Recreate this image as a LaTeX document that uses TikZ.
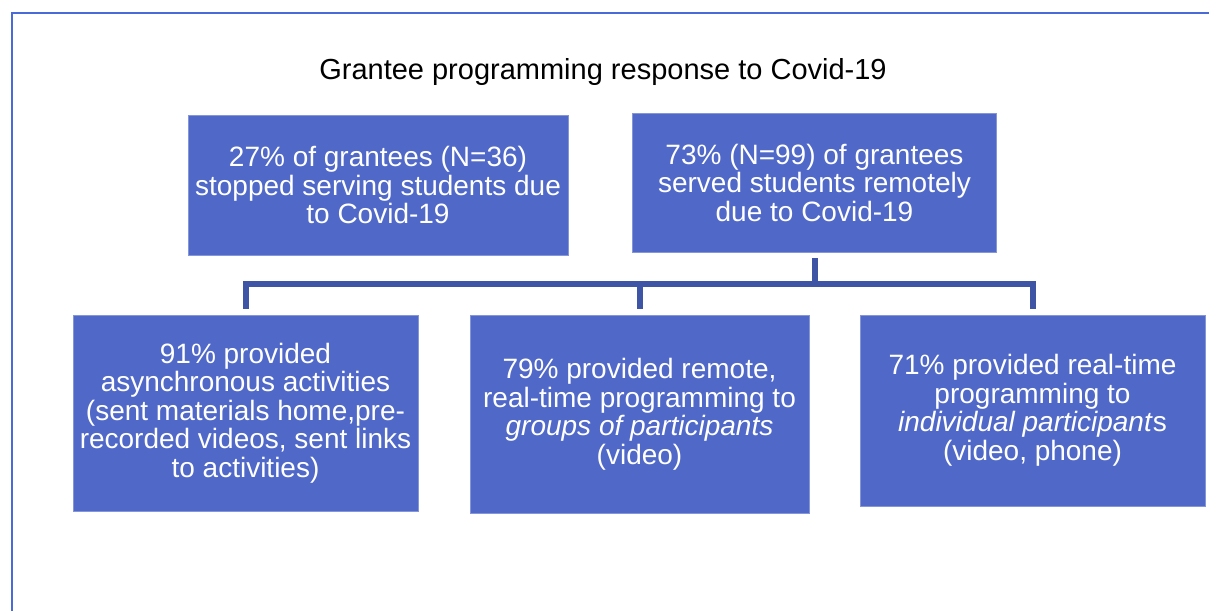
\documentclass[tikz,border=0pt]{standalone}
\usepackage{fontspec}
\setmainfont{Liberation Sans}
\definecolor{boxfill}{RGB}{80,104,200}
\definecolor{connblue}{RGB}{62,84,164}
\definecolor{frameblue}{RGB}{74,106,216}
\begin{document}
\begin{tikzpicture}[x=1pt,y=-1pt,
  box/.style={rectangle, fill=boxfill, draw=boxfill!70!white, line width=0.8pt, inner sep=0pt, align=center, text=white,
    font=\fontsize{28}{28.5}\selectfont},
  conn/.style={draw=connblue, line width=6pt},
  framestyle/.style={draw=frameblue, line width=2pt}]
\useasboundingbox (0,0) rectangle (1209,610);
\draw[framestyle] (12,611) -- (12,13) -- (1210,13);
\node[font=\fontsize{29}{32}\selectfont, anchor=base] (title) at (603,79) {Grantee programming response to Covid-19};
\node[box, minimum width=380pt, minimum height=140pt] (A) at (378,185)
  {27\% of grantees (N=36)\\stopped serving students due\\to Covid-19};
\node[box, minimum width=364pt, minimum height=139pt] (B) at (814.5,182.5)
  {73\% (N=99) of grantees\\served students remotely\\due to Covid-19};
\node[box, minimum width=345pt, minimum height=196pt] (C) at (245.5,413)
  {91\% provided\\asynchronous activities\\(sent materials home,pre-\\recorded videos, sent links\\to activities)};
\node[box, minimum width=339pt, minimum height=198pt] (D) at (639.5,414)
  {79\% provided remote,\\real-time programming to\\\textit{groups of participants}\\(video)};
\node[box, minimum width=345pt, minimum height=191pt] (E) at (1032.5,410.5)
  {71\% provided real-time\\programming to\\\textit{individual participant}s\\(video, phone)};
\coordinate (bus) at (0,284);
\draw[conn] ([yshift=-6pt]B.south) -- (B.south |- bus) -| ([yshift=6pt]C.north);
\draw[conn] ([yshift=-6pt]B.south) -- (B.south |- bus) -| ([yshift=6pt]D.north);
\draw[conn] ([yshift=-6pt]B.south) -- (B.south |- bus) -| ([yshift=6pt]E.north);
\end{tikzpicture}
\end{document}
